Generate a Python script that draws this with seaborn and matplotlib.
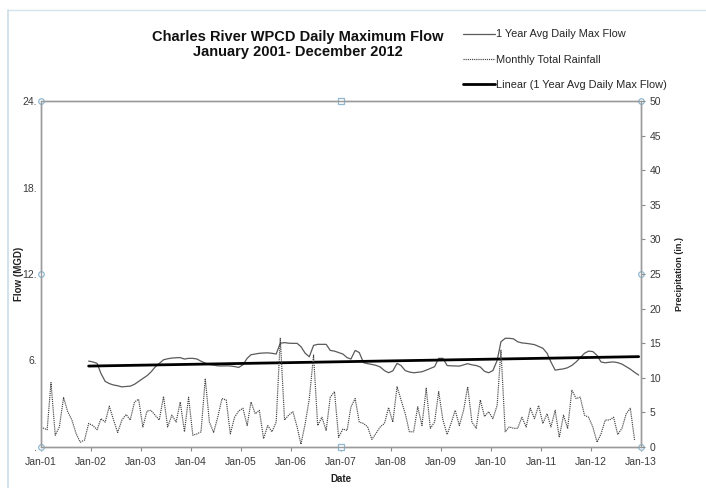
import numpy as np
import pandas as pd
import matplotlib
matplotlib.use("Agg")
import matplotlib.pyplot as plt
import matplotlib.dates as mdates
from matplotlib.lines import Line2D
import seaborn as sns

# ---------------- data ----------------
rain_start = "2001-01-01"
rain_in = [
    2.75, 2.5, 9.3, 1.7, 2.9, 7.15, 5.1, 3.9, 1.9, 0.7, 1.0, 3.4,      # 2001
    3.1, 2.5, 4.1, 3.6, 5.9, 3.9, 2.1, 3.9, 4.7, 3.9, 6.5, 6.9,        # 2002
    2.9, 5.2, 5.3, 4.6, 3.9, 7.3, 2.9, 4.6, 3.6, 6.5, 2.2, 7.2,        # 2003
    1.7, 1.9, 2.2, 9.9, 3.6, 2.1, 4.3, 7.0, 6.8, 1.9, 4.3, 5.2,        # 2004
    5.6, 3.1, 6.5, 4.8, 5.3, 1.2, 3.1, 2.2, 3.6, 15.7, 3.9, 4.6,       # 2005
    5.1, 2.9, 0.4, 3.4, 7.0, 13.3, 3.1, 4.3, 2.4, 7.2, 8.0, 1.4,       # 2006
    2.6, 2.4, 5.8, 7.0, 3.6, 3.4, 2.9, 1.1, 2.0, 2.9, 3.4, 5.7,        # 2007
    3.6, 8.7, 6.8, 4.8, 2.2, 2.2, 5.8, 3.1, 8.5, 2.7, 3.6, 8.0,        # 2008
    3.9, 1.8, 3.4, 5.3, 3.1, 5.3, 8.7, 3.6, 2.7, 6.8, 4.4, 5.1,        # 2009
    4.1, 6.0, 14.0, 2.2, 2.9, 2.7, 2.7, 4.3, 2.9, 5.6, 4.1, 6.0,       # 2010
    3.4, 4.8, 2.9, 5.3, 1.4, 4.6, 2.7, 8.2, 7.0, 7.2, 4.6, 4.3,        # 2011
    2.9, 0.7, 1.9, 3.9, 3.9, 4.3, 1.8, 2.7, 4.8, 5.6, 1.0,             # 2012
]

flow_start = "2001-12-01"
flow_mgd = [
    5.96,                                                               # Dec 2001
    5.9, 5.8, 5.1, 4.55, 4.4, 4.3, 4.25, 4.17, 4.2, 4.22, 4.35, 4.55,  # 2002
    4.75, 4.95, 5.2, 5.55, 5.8, 6.05, 6.12, 6.17, 6.19, 6.2, 6.1, 6.15,  # 2003
    6.15, 6.1, 5.95, 5.82, 5.72, 5.68, 5.63, 5.62, 5.63, 5.62, 5.58, 5.52,  # 2004
    5.7, 6.15, 6.4, 6.45, 6.5, 6.52, 6.53, 6.5, 6.45, 7.2, 7.24, 7.2,  # 2005
    7.19, 7.19, 6.96, 6.5, 6.26, 7.05, 7.12, 7.12, 7.12, 6.7, 6.65, 6.55,  # 2006
    6.45, 6.2, 6.1, 6.7, 6.55, 5.85, 5.78, 5.73, 5.66, 5.55, 5.3, 5.15,  # 2007
    5.28, 5.8, 5.65, 5.3, 5.2, 5.15, 5.18, 5.22, 5.33, 5.45, 5.57, 6.15,  # 2008
    6.15, 5.65, 5.63, 5.62, 5.61, 5.7, 5.78, 5.7, 5.65, 5.55, 5.25, 5.15,  # 2009
    5.3, 6.0, 7.3, 7.54, 7.54, 7.5, 7.3, 7.22, 7.19, 7.15, 7.1, 6.98,  # 2010
    6.85, 6.5, 5.9, 5.33, 5.38, 5.42, 5.5, 5.66, 5.9, 6.2, 6.5, 6.65,  # 2011
    6.62, 6.35, 5.9, 5.84, 5.88, 5.9, 5.85, 5.75, 5.57, 5.4, 5.18, 4.99,  # 2012
]

title_text = "Charles River WPCD Daily Maximum Flow\nJanuary 2001- December 2012"
legend_labels = ["1 Year Avg Daily Max Flow", "Monthly Total Rainfall",
                 "Linear (1 Year Avg Daily Max Flow)"]
left_ticks = [0, 6, 12, 18, 24]
left_tick_labels = [".", "6.", "12.", "18.", "24."]
right_ticks = list(range(0, 51, 5))
x_start, x_end = "2001-01-01", "2013-01-01"

# ---------------- frames ----------------
rain_df = pd.DataFrame({
    "date": pd.date_range(rain_start, periods=len(rain_in), freq="MS") + pd.Timedelta(days=14),
    "rain": rain_in})
flow_df = pd.DataFrame({
    "date": pd.date_range(flow_start, periods=len(flow_mgd), freq="MS") + pd.Timedelta(days=14),
    "flow": flow_mgd})
xnum = mdates.date2num(flow_df["date"])
coef = np.polyfit(xnum, flow_df["flow"], 1)
trend_df = pd.DataFrame({"date": flow_df["date"].iloc[[0, -1]],
                         "trend": np.polyval(coef, xnum[[0, -1]])})

# ---------------- figure ----------------
sns.set_theme(style="white")
plt.rcParams["font.family"] = ["Liberation Sans", "DejaVu Sans"]

fig = plt.figure(figsize=(7.06, 4.88), dpi=100)
ax = fig.add_axes([41/706, 1-447/488, 600/706, 346/488])
ax2 = ax.twinx()

rain_style = dict(color="#444444", lw=0.85, linestyle=(0, (1, 0.8)))
sns.lineplot(data=flow_df, x="date", y="flow", ax=ax, color="#5a5a5a", lw=0.9)
sns.lineplot(data=trend_df, x="date", y="trend", ax=ax, color="black", lw=2.0)
sns.lineplot(data=rain_df, x="date", y="rain", ax=ax2, **rain_style)

ax.set_xlim(pd.Timestamp(x_start), pd.Timestamp(x_end))
ax.set_ylim(0, 24)
ax2.set_ylim(0, 50)
ax.set_yticks(left_ticks)
ax.set_yticklabels(left_tick_labels)
ax2.set_yticks(right_ticks)
ax.xaxis.set_major_locator(mdates.YearLocator())
ax.xaxis.set_major_formatter(mdates.DateFormatter("%b-%y"))

tc = "#3a3a3a"
for a in (ax, ax2):
    for s in a.spines.values():
        s.set_color("#9a9a9a")
        s.set_linewidth(1.0)
    a.tick_params(labelsize=7.5, labelcolor=tc, color="#8a8a8a", length=3, width=0.8)
ax.tick_params(axis="x", bottom=True, direction="out", pad=4)
ax.tick_params(axis="y", left=True, length=0, pad=3)
ax2.tick_params(axis="y", right=True, direction="out", pad=3)

ax.set_xlabel("Date", fontsize=7, fontweight="bold", color="#222222", labelpad=5)
ax.set_ylabel("Flow (MGD)", fontsize=7, fontweight="bold", color="#222222", labelpad=-1)
ax2.set_ylabel("Precipitation (in.)", fontsize=6.5, fontweight="bold", color="#222222", labelpad=10)

# selection handles (decoration)
for (hx, hy, mk) in [(0, 1, "o"), (0.5, 1, "s"), (1, 1, "o"), (0, 0.5, "o"), (1, 0.5, "o"),
                     (0, 0, "o"), (0.5, 0, "s"), (1, 0, "o")]:
    ax.plot(hx, hy, marker=mk, ms=4, mfc="white", mec="#8fb8d0", mew=0.9,
            transform=ax.transAxes, clip_on=False, zorder=10)

# outer frame lines
fig.add_artist(Line2D([8/706, 8/706], [0, 1-10/488], color="#c8dde8", lw=1.2))
fig.add_artist(Line2D([8/706, 1], [1-10/488, 1-10/488], color="#d5e3ea", lw=1.0))

fig.text(0.422, 1-30/488, title_text, ha="center", va="top", fontsize=10.5,
         fontweight="bold", color="#111111", linespacing=1.05)

handles = [Line2D([], [], color="#5a5a5a", lw=0.9),
           Line2D([], [], **rain_style),
           Line2D([], [], color="black", lw=2.0)]
fig.legend(handles, legend_labels, loc="upper left", bbox_to_anchor=(459/706, 1-25/488),
           frameon=False, fontsize=7.9, handlelength=2.9, handletextpad=0.1,
           labelspacing=1.38, borderaxespad=0)

fig.savefig("out.png", dpi=100)
